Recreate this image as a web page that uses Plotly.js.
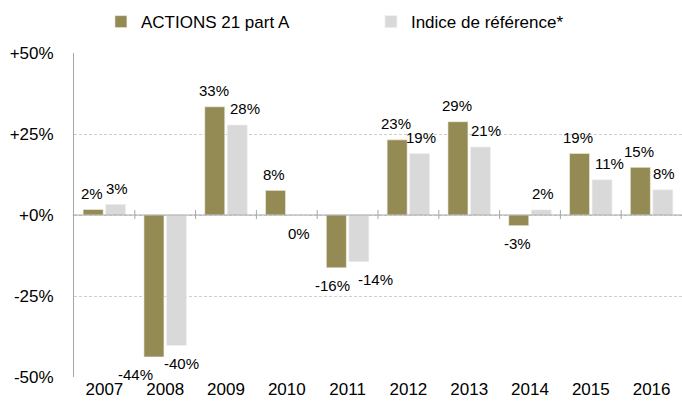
<!DOCTYPE html>
<html>
<head>
<meta charset="utf-8">
<script src="https://cdn.plot.ly/plotly-3.0.1.min.js"></script>
<style>html,body{margin:0;padding:0;background:#fff;}#chart{width:682px;height:407px;}</style>
</head>
<body>
<div id="chart"></div>
<script>
// ---- data ----
const years = ['2007','2008','2009','2010','2011','2012','2013','2014','2015','2016'];
const seriesNames = ['ACTIONS 21 part A', 'Indice de référence*'];
const fundValues  = [1.7, -43.8, 33.4, 7.6, -16.3, 23.2, 28.8, -3.3, 19.0, 14.7];
const indexValues = [3.3, -40.3, 27.8, 0.0, -14.4, 19.0, 21.0, 1.6, 10.9, 7.8];
const yTickVals = [-50, -25, 0, 25, 50];
const yTickText = ['-50%', '-25%', '+0%', '+25%', '+50%'];

// ---- label nudges (styling only) ----
const fundLabelNudge  = [0, -17, 0, 0, -3, 0, 0, 0, 0, 0];
const indexLabelNudge = [0, 4, 6, 0, 15, 0, 4, 0, 6, 0];

const FONT = '"Liberation Sans", Arial, sans-serif';
const GOLD = '#948a54';
const GREY = '#d9d9d9';
const AXIS = '#a6a6a6';

const fmt = v => Math.round(v) + '%';

const traces = [
  {type: 'bar', name: seriesNames[0], x: years, y: fundValues,
   marker: {color: GOLD, line: {color: '#f4f2ea', width: 0.6}}, hoverinfo: 'skip'},
  {type: 'bar', name: seriesNames[1], x: years, y: indexValues,
   marker: {color: GREY, line: {color: '#f2f2f2', width: 0.6}}, hoverinfo: 'skip'}
];

const annotations = [];
function addLabels(vals, nudges, side) {
  vals.forEach((v, i) => {
    annotations.push({
      x: i, y: v, xref: 'x', yref: 'y',
      text: fmt(v), showarrow: false,
      font: {family: FONT, size: 15, color: '#000'},
      xanchor: 'center', yanchor: 'middle',
      xshift: side * 12.5 + nudges[i],
      yshift: v > 0 ? 16 : -18
    });
  });
}
addLabels(fundValues, fundLabelNudge, -1);
addLabels(indexValues, indexLabelNudge, 1);

// zero baseline and category-boundary ticks crossing it
const shapes = [{
  type: 'line', xref: 'paper', x0: -0.002, x1: 1, yref: 'y', y0: 0, y1: 0,
  line: {color: AXIS, width: 1}, layer: 'above'
}];
years.slice(1).forEach((_, i) => {
  shapes.push({
    type: 'line', xref: 'x', x0: i + 0.5, x1: i + 0.5,
    yref: 'y', ysizemode: 'pixel', yanchor: 0, y0: -4, y1: 5,
    line: {color: AXIS, width: 1}, layer: 'above'
  });
});

const layout = {
  width: 682, height: 407,
  margin: {l: 74, r: 0, t: 53, b: 30, pad: 0},
  paper_bgcolor: '#fff', plot_bgcolor: '#fff',
  font: {family: FONT, size: 17, color: '#000'},
  barmode: 'group', bargap: 0.26, bargroupgap: 0.11,
  showlegend: true,
  legend: {
    orientation: 'h', xref: 'container', yref: 'container',
    x: 0.148, y: 0.99, xanchor: 'left', yanchor: 'top',
    font: {family: FONT, size: 17, color: '#000'},
    entrywidth: 225, entrywidthmode: 'pixels',
    bgcolor: 'rgba(0,0,0,0)', traceorder: 'normal'
  },
  xaxis: {
    type: 'category', categoryarray: years, range: [-0.5, years.length - 0.5],
    showline: false, ticks: '', showgrid: false, zeroline: false,
    tickfont: {family: FONT, size: 17, color: '#000'}, fixedrange: true
  },
  yaxis: {
    range: [-50, 50], tickvals: yTickVals, ticktext: yTickText,
    showline: true, linecolor: AXIS, linewidth: 1,
    showgrid: true, gridcolor: '#cfcfcf', gridwidth: 1, griddash: '3px,2px',
    zeroline: false, ticks: '', ticklabelstandoff: 16,
    tickfont: {family: FONT, size: 17, color: '#000'}, fixedrange: true
  },
  shapes: shapes,
  annotations: annotations
};

Plotly.newPlot('chart', traces, layout, {displayModeBar: false, staticPlot: true});
</script>
</body>
</html>
